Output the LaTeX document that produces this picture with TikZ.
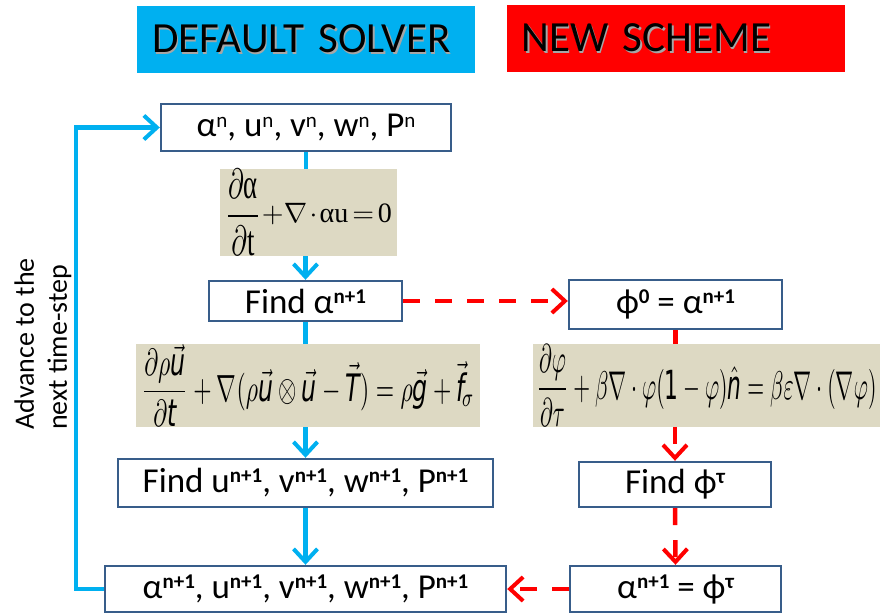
\documentclass[tikz,border=0pt]{standalone}
\usepackage{fontspec}
\usepackage{amsmath}
\usepackage{graphicx}
\setmainfont{Carlito}
\newfontfamily\eqserif{Liberation Serif}
\newfontfamily\eqsf{DejaVu Sans}
\usetikzlibrary{arrows.meta,calc}
\definecolor{boxblue}{HTML}{385D8A}
\definecolor{skyc}{HTML}{00B0F0}
\definecolor{eqtan}{HTML}{DDD9C3}
\definecolor{redc}{HTML}{FF0000}
\newcommand{\sps}[1]{\raisebox{10pt}{\fontsize{21}{21}\selectfont\bfseries #1}}
\newcommand{\spn}[1]{\raisebox{9pt}{\fontsize{21}{21}\selectfont #1}}
\newcommand{\sv}[1]{\text{\eqsf\itshape #1}}
\newcommand{\svu}[1]{\text{\eqsf #1}}
\newcommand{\su}[1]{\text{\eqserif #1}}
\newcommand{\shadowtext}[1]{\leavevmode\rlap{\kern1.5pt\raisebox{-1.5pt}{\color{black!35}#1}}#1}
\tikzset{
  hdr/.style={inner xsep=15pt, inner ysep=0pt, text width=308pt, align=left,
    minimum height=67pt, font=\fontsize{43}{43}\selectfont},
  stepbox/.style={draw=boxblue, line width=2.4pt, fill=white, inner sep=0pt,
    font=\fontsize{35}{35}\selectfont},
  eqbox/.style={fill=eqtan, inner sep=0pt, minimum height=75pt},
  tipv/.style={-{Straight Barb[length=13pt,width=24pt,line width=4pt]}},
  cyanline/.style={draw=skyc, line width=4.5pt},
  cyanarrow/.style={cyanline, tipv},
  redline/.style={draw=redc, line width=4.5pt},
  redarrow/.style={redline, dash pattern=on 17pt off 15pt, tipv},
}
\begin{document}
\begin{tikzpicture}[x=1pt,y=-1pt]
\useasboundingbox (0,0) rectangle (881,613);
% headers
\node[hdr, fill=skyc] (hdefault) at (306,39.5) {\shadowtext{DEFAULT SOLVER}};
\node[hdr, fill=redc] (hnew) at (675.5,38.5) {\shadowtext{NEW SCHEME}};
% default solver boxes
\node[stepbox, minimum width=290pt, minimum height=47pt] (b1) at (306,127.5)
  {α\spn{n}, u\spn{n}, v\spn{n}, w\spn{n}, P\spn{n}};
\node[eqbox, minimum width=177pt] (eq1) at (308.5,212.5)
  {\raisebox{-4pt}{\resizebox{36pt}{58pt}{$\displaystyle \frac{\partial\su{α}}{\partial\su{t}}$}}\kern1pt\resizebox{130pt}{!}{\medmuskip=1.5mu\thickmuskip=2.5mu$+\nabla\cdot\su{αu}=\su{0}$}};
\node[stepbox, minimum width=193pt, minimum height=40pt] (b2) at (305.5,301)
  {Find α\sps{n+1}};
\node[eqbox, minimum width=344pt] (eq2) at (308,385.5)
  {\resizebox{333pt}{57pt}{$\displaystyle \frac{\partial\rho\vec{\sv{u}}}{\partial\sv{t}}+\nabla(\rho\vec{\sv{u}}\otimes\vec{\sv{u}}-\vec{\sv{T}})=\rho\vec{\sv{g}}+\vec{\sv{f}}_{\!\sigma}$}};
\node[stepbox, minimum width=375pt, minimum height=48pt] (b3) at (305.5,483)
  {Find u\sps{n+1}, v\sps{n+1}, w\sps{n+1}, P\sps{n+1}};
\node[stepbox, minimum width=401pt, minimum height=46pt] (b4) at (305.5,589)
  {α\sps{n+1}, u\sps{n+1}, v\sps{n+1}, w\sps{n+1}, P\sps{n+1}};
% new scheme boxes
\node[stepbox, minimum width=213pt, minimum height=49pt] (n1) at (675.5,304.5)
  {ϕ\sps{0} = α\sps{n+1}};
\node[eqbox, minimum width=347pt] (eq3) at (706.5,385.5)
  {\resizebox{340pt}{55pt}{$\displaystyle \frac{\partial\varphi}{\partial\tau}+\beta\nabla\cdot\varphi(\svu{1}-\varphi)\hat{\sv{n}}=\beta\varepsilon\nabla\cdot(\nabla\varphi)$}};
\node[stepbox, minimum width=192pt, minimum height=45pt] (n2) at (675,484.5)
  {Find ϕ\sps{τ}};
\node[stepbox, minimum width=211pt, minimum height=46pt] (n3) at (675.5,589)
  {α\sps{n+1} = ϕ\sps{τ}};
% side label
\node[rotate=90, align=left, font=\fontsize{28}{33}\selectfont] (adv) at (43,344)
  {Advance to the\\next time-step};
\coordinate (loopx) at (76,0);
% cyan connectors
\draw[cyanline] (b1.south) -- (b1.south |- eq1.north);
\draw[cyanarrow] (b2.north |- eq1.south) -- (b2.north);
\draw[cyanline] (b2.south) -- (b2.south |- eq2.north);
\draw[cyanarrow] (b3.north |- eq2.south) -- (b3.north);
\draw[cyanarrow] (b3.south) -- (b4.north);
\draw[cyanarrow] (b4.west) -- (b4.west -| loopx) |- (b1.west);
% red connectors
\draw[redarrow] (b2.east) -- (b2.east -| n1.west);
\draw[redline] (n1.south) -- (n1.south |- eq3.north);
\draw[redarrow] (n2.north |- eq3.south) -- (n2.north);
\draw[redarrow] (n2.south) -- (n3.north);
\draw[redarrow] (n3.west) -- (n3.west -| b4.east);
\end{tikzpicture}
\end{document}
